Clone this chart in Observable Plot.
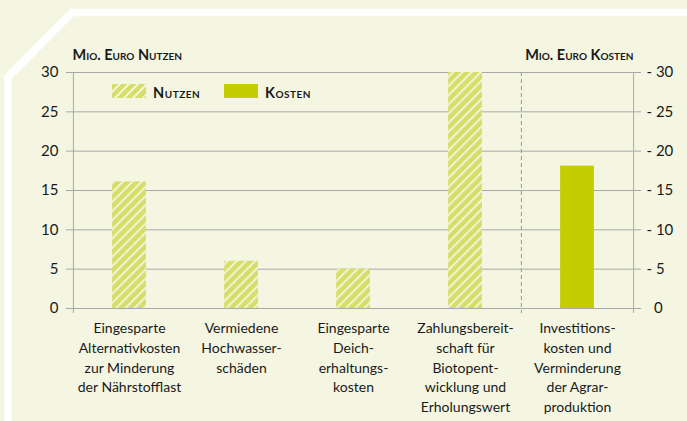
<!DOCTYPE html>
<html>
<head>
<meta charset="utf-8">
<script src="https://cdn.jsdelivr.net/npm/d3@7"></script>
<script src="https://cdn.jsdelivr.net/npm/@observablehq/plot@0.6"></script>
<style>
  html, body { margin: 0; padding: 0; background: #f4f6e2; }
  #wrap { position: relative; width: 687px; height: 421px; font-family: Lato, sans-serif; color: #1a1a1a; }
  #wrap svg { display: block; }
  .leg { position: absolute; top: 84px; height: 14px; display: flex; align-items: center; }
  .sw { width: 34px; height: 14px; margin-right: 7px; }
  .lab { font-weight: bold; font-variant: small-caps; font-size: 14.5px; letter-spacing: 0.5px; line-height: 14px; padding-top: 3px; }
</style>
</head>
<body>
<div id="wrap"></div>
<script>
// ---- data ----
const categories = [
  "Eingesparte\nAlternativkosten\nzur Minderung\nder Nährstofflast",
  "Vermiedene\nHochwasser-\nschäden",
  "Eingesparte\nDeich-\nerhaltungs-\nkosten",
  "Zahlungsbereit-\nschaft für\nBiotopent-\nwicklung und\nErholungswert",
  "Investitions-\nkosten und\nVerminderung\nder Agrar-\nproduktion"
];
const nutzen = [16.1, 6.0, 5.0, 30.0, null];
const kosten = [null, null, null, null, 18.1];
const yTicks = [0, 5, 10, 15, 20, 25, 30];
const leftTitle = "Mio. Euro Nutzen";
const rightTitle = "Mio. Euro Kosten";
const legendLabels = ["Nutzen", "Kosten"];

const nutzenData = categories.map((c, i) => ({cat: c, value: nutzen[i]})).filter(d => d.value != null);
const kostenData = categories.map((c, i) => ({cat: c, value: kosten[i]})).filter(d => d.value != null);

const W = 687, H = 421, mL = 72, mR = 54, mT = 72, mB = 113;
const step = (W - mL - mR) / categories.length;
const inset = (step - 34) / 2;
const gridColor = "#a9a9a9";
const textColor = "#1a1a1a";
const hatchBase = "#d6de6a";
const hatchLine = "#f1f4d3";
const kostenColor = "#c5cd00";

const plot = Plot.plot({
  width: W, height: H,
  marginTop: mT, marginBottom: mB, marginLeft: mL, marginRight: mR,
  style: {background: "transparent", fontFamily: "Lato, sans-serif", color: textColor, overflow: "visible"},
  x: {type: "band", domain: categories, padding: 0},
  y: {domain: [0, 30]},
  marks: [
    Plot.gridY(yTicks, {stroke: gridColor, strokeOpacity: 1}),
    Plot.barY(nutzenData, {x: "cat", y: "value", fill: "url(#hatch)", insetLeft: inset, insetRight: inset}),
    Plot.barY(kostenData, {x: "cat", y: "value", fill: kostenColor, insetLeft: inset, insetRight: inset}),
    Plot.ruleX([categories[0]], {dx: -step / 2, stroke: gridColor, insetBottom: -5}),
    Plot.ruleX([categories[4]], {dx: -step / 2, stroke: "#9a9a9a", strokeDasharray: "4,3", insetBottom: -5}),
    Plot.ruleX([categories[4]], {dx: step / 2, stroke: gridColor, insetBottom: -5}),
    Plot.axisY({ticks: yTicks, tickSize: 6, tickPadding: 8, label: null, fontSize: 15, stroke: gridColor, fill: textColor}),
    Plot.axisY({anchor: "right", ticks: yTicks, tickSize: 7, tickPadding: 6, label: null, fontSize: 15,
      textAnchor: "start", tickFormat: d => d === 0 ? "\u20020" : "- " + d, stroke: gridColor, fill: textColor}),
    Plot.axisX({tickSize: 0, tickPadding: 11, label: null, fontSize: 14, lineHeight: 1.4, fill: textColor}),
    Plot.text([leftTitle], {frameAnchor: "top-left", text: d => d, textAnchor: "start", lineAnchor: "bottom",
      dy: -13, fontWeight: "bold", fontVariant: "small-caps", fontSize: 14.5, fill: textColor}),
    Plot.text([rightTitle], {frameAnchor: "top-right", text: d => d, textAnchor: "end", lineAnchor: "bottom",
      dy: -13, fontWeight: "bold", fontVariant: "small-caps", fontSize: 14.5, fill: textColor})
  ]
});

const svg = d3.select(plot);
svg.insert("path", ":first-child")
  .attr("d", "M700,12.5H72L8,77V430")
  .attr("fill", "none").attr("stroke", "#fff").attr("stroke-width", 7.5).attr("stroke-linejoin", "round");
svg.insert("defs", ":first-child").html(
  `<pattern id="hatch" patternUnits="userSpaceOnUse" width="6.5" height="6.5" patternTransform="rotate(45)">
     <rect width="6.5" height="6.5" fill="${hatchBase}"/>
     <rect x="0" width="2" height="6.5" fill="${hatchLine}"/>
   </pattern>`);

const wrap = document.getElementById("wrap");
wrap.appendChild(plot);

const xs = plot.scale("x");
[0, 1].forEach(i => {
  const leg = document.createElement("div");
  leg.className = "leg";
  leg.style.left = (xs.apply(categories[i]) + inset) + "px";
  const sw = document.createElement("div");
  sw.className = "sw";
  sw.style.background = i === 0
    ? `repeating-linear-gradient(135deg, ${hatchBase} 0 4.5px, ${hatchLine} 4.5px 6.5px)`
    : kostenColor;
  const lab = document.createElement("div");
  lab.className = "lab";
  lab.textContent = legendLabels[i];
  leg.appendChild(sw); leg.appendChild(lab);
  wrap.appendChild(leg);
});
</script>
</body>
</html>
